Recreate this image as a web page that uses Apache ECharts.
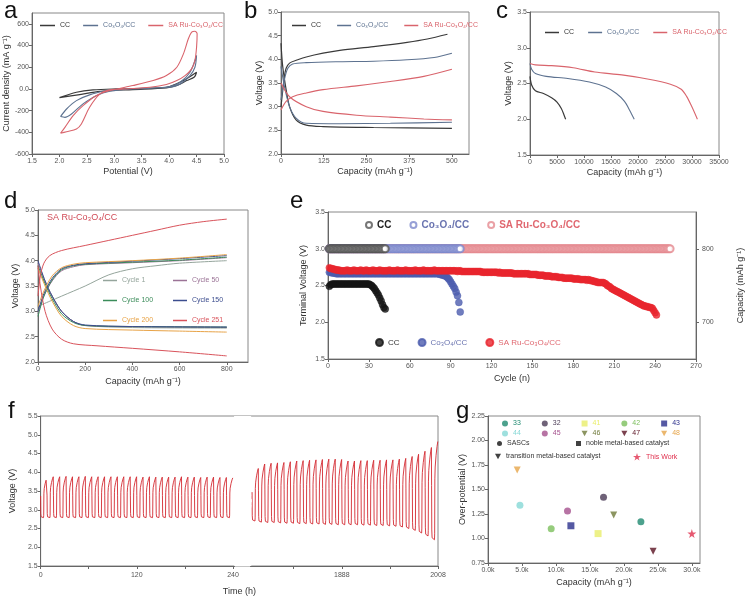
<!DOCTYPE html>
<html><head><meta charset="utf-8">
<script src="https://cdn.jsdelivr.net/npm/echarts@6/dist/echarts.min.js"></script>
<style>html,body{margin:0;padding:0;background:#fff}#c{width:746px;height:601px}</style>
</head><body><div id="c"></div><script>
// ---------- Panel a: CV curves [potential V, current mA/g] ----------
const aCC = [[2.0,-80],[2.31,-31],[2.61,-9],[3.04,0],[3.83,9],[4.01,22],[4.26,77],[4.5,154],[4.46,110],[4.32,77],[4.14,31],[3.95,9],[3.34,-6],[2.74,-22],[2.37,-52],[2.0,-80]];
const aCo = [[2.02,-255],[2.13,-185],[2.31,-108],[2.55,-55],[2.86,-15],[3.04,-3],[3.65,6],[4.01,22],[4.2,62],[4.38,154],[4.5,308],[4.47,200],[4.38,123],[4.2,46],[4.01,15],[3.34,0],[2.92,-22],[2.67,-62],[2.43,-138],[2.22,-231],[2.1,-262],[2.02,-255]];
const aRu = [[2.02,-409],[2.1,-354],[2.25,-246],[2.43,-154],[2.67,-62],[2.92,-15],[3.34,31],[3.71,77],[3.95,123],[4.14,200],[4.26,323],[4.35,462],[4.41,523],[4.47,532],[4.51,508],[4.5,385],[4.47,262],[4.41,185],[4.29,123],[4.14,77],[3.95,40],[3.65,15],[3.22,0],[2.92,-9],[2.74,-46],[2.55,-169],[2.4,-323],[2.31,-369],[2.13,-394],[2.02,-409]];
// ---------- Panel b: charge / discharge at 500 mAh/g ----------
const bCCcharge = [[0,3.0],[10,3.64],[15,3.81],[25,3.92],[49,3.99],[74,4.05],[123,4.13],[172,4.19],[271,4.27],[369,4.36],[428,4.43],[487,4.53]];
const bCCdis = [[0,4.34],[5,3.85],[15,3.36],[25,3.0],[44,2.72],[74,2.61],[123,2.58],[271,2.56],[500,2.54]];
const bCocharge = [[0,3.14],[10,3.57],[20,3.81],[34,3.9],[74,3.93],[172,3.95],[271,3.96],[369,3.99],[448,4.04],[500,4.13]];
const bCodis = [[0,3.85],[10,3.43],[25,3.0],[44,2.76],[74,2.65],[172,2.64],[320,2.65],[500,2.67]];
const bRucharge = [[0,2.93],[15,3.11],[34,3.21],[74,3.29],[123,3.36],[221,3.44],[320,3.53],[418,3.64],[500,3.79]];
const bRudis = [[0,3.5],[25,3.21],[74,3.0],[123,2.9],[221,2.82],[320,2.78],[418,2.74],[500,2.72]];
// ---------- Panel c: full discharge ----------
const cCC = [[0,2.6],[300,2.48],[1000,2.4],[2500,2.36],[4000,2.3],[5000,2.24],[5800,2.15],[6300,2.06],[6600,2.0]];
const cCo = [[0,2.78],[300,2.7],[1000,2.64],[3000,2.6],[7000,2.57],[11000,2.52],[14000,2.45],[16000,2.36],[17500,2.25],[18500,2.12],[19300,2.0]];
const cRu = [[0,2.78],[1000,2.76],[4000,2.75],[8000,2.72],[12000,2.66],[17000,2.62],[22000,2.56],[26000,2.49],[28000,2.42],[29000,2.32],[30000,2.17],[31000,2.0]];
// ---------- Panel d: selected cycles ----------
const dNames = ['Cycle 1','Cycle 50','Cycle 100','Cycle 150','Cycle 200','Cycle 251'];
const dCharge = [
 [[0,3.1],[50,3.2],[100,3.3],[200,3.5],[300,3.72],[400,3.84],[500,3.9],[600,3.95],[800,4.0]],
 [[0,2.95],[25,3.3],[60,3.6],[100,3.8],[150,3.88],[200,3.92],[400,3.96],[600,4.0],[800,4.06]],
 [[0,2.9],[25,3.3],[60,3.62],[100,3.82],[150,3.9],[200,3.93],[400,3.97],[600,4.01],[800,4.07]],
 [[0,3.0],[25,3.35],[60,3.65],[100,3.84],[150,3.91],[200,3.94],[400,3.99],[600,4.04],[800,4.1]],
 [[0,3.1],[25,3.4],[60,3.7],[100,3.86],[150,3.93],[200,3.96],[400,4.0],[600,4.05],[800,4.12]],
 [[0,3.3],[10,3.7],[25,3.95],[50,4.1],[100,4.2],[200,4.3],[300,4.4],[400,4.5],[500,4.6],[600,4.7],[700,4.77],[800,4.82]]
];
const dDis = [
 [[0,3.85],[30,3.55],[60,3.3],[100,3.0],[150,2.8],[200,2.72],[400,2.68],[800,2.67]],
 [[0,3.95],[30,3.6],[60,3.3],[100,3.0],[150,2.8],[200,2.72],[400,2.7],[800,2.68]],
 [[0,3.9],[30,3.55],[60,3.25],[100,2.95],[150,2.78],[200,2.72],[400,2.7],[800,2.69]],
 [[0,4.0],[30,3.6],[60,3.3],[100,3.0],[150,2.8],[200,2.73],[400,2.7],[800,2.69]],
 [[0,3.85],[30,3.5],[60,3.2],[100,2.9],[150,2.72],[200,2.66],[400,2.63],[600,2.61],[800,2.59]],
 [[0,3.9],[10,3.5],[30,3.0],[60,2.65],[100,2.45],[150,2.36],[250,2.32],[400,2.27],[600,2.2],[800,2.12]]
];
// ---------- Panel e: terminal voltage per cycle ----------
const eCCv = [2.49,2.51,2.52,2.52,2.52,2.52,2.52,2.52,2.52,2.52,
 2.52,2.52,2.52,2.52,2.52,2.52,2.52,2.52,2.52,2.52,
 2.52,2.52,2.52,2.52,2.52,2.52,2.52,2.52,2.52,2.52,
 2.51,2.50,2.48,2.46,2.43,2.40,2.37,2.33,2.29,2.24,2.20,2.18];
const eCov = [2.68,2.68,2.67,2.67,2.67,2.66,2.66,2.66,2.66,2.66,
 2.66,2.66,2.66,2.66,2.66,2.66,2.66,2.66,2.66,2.66,
 2.66,2.66,2.66,2.66,2.66,2.66,2.66,2.66,2.66,2.66,
 2.66,2.66,2.66,2.66,2.66,2.66,2.66,2.66,2.66,2.66,
 2.66,2.66,2.66,2.66,2.66,2.66,2.66,2.66,2.66,2.66,
 2.66,2.66,2.66,2.66,2.66,2.66,2.66,2.66,2.66,2.66,
 2.66,2.66,2.66,2.66,2.66,2.66,2.66,2.66,2.66,2.66,
 2.66,2.66,2.66,2.66,2.66,2.66,2.66,2.66,2.66,2.66,
 2.66,2.65,2.65,2.64,2.64,2.63,2.62,2.60,2.58,2.55,
 2.52,2.49,2.46,2.41,2.36,2.27,2.14];
const eRuv = [2.74,2.73,2.73,2.72,2.72,2.71,2.71,2.71,2.70,2.70,
 2.70,2.70,2.70,2.71,2.70,2.70,2.70,2.70,2.71,2.70,
 2.70,2.70,2.70,2.71,2.70,2.70,2.70,2.71,2.70,2.70,
 2.70,2.70,2.71,2.70,2.70,2.70,2.70,2.71,2.70,2.70,
 2.70,2.70,2.70,2.70,2.71,2.70,2.70,2.70,2.70,2.70,
 2.71,2.70,2.70,2.70,2.70,2.70,2.71,2.70,2.70,2.70,
 2.70,2.70,2.70,2.71,2.70,2.70,2.70,2.70,2.70,2.71,
 2.70,2.70,2.70,2.70,2.70,2.70,2.70,2.71,2.70,2.70,
 2.70,2.70,2.70,2.70,2.70,2.70,2.70,2.70,2.70,2.70,
 2.70,2.70,2.70,2.70,2.69,2.70,2.70,2.69,2.69,2.69,
 2.69,2.69,2.69,2.69,2.69,2.69,2.69,2.69,2.69,2.69,
 2.69,2.69,2.68,2.68,2.68,2.68,2.68,2.68,2.68,2.68,
 2.68,2.68,2.68,2.68,2.67,2.68,2.67,2.67,2.67,2.67,
 2.67,2.67,2.67,2.67,2.67,2.66,2.66,2.66,2.66,2.66,
 2.66,2.66,2.66,2.66,2.66,2.66,2.66,2.65,2.65,2.65,
 2.65,2.65,2.65,2.64,2.64,2.64,2.64,2.64,2.63,2.63,
 2.63,2.63,2.63,2.62,2.62,2.62,2.62,2.62,2.61,2.61,
 2.61,2.61,2.60,2.60,2.60,2.60,2.60,2.60,2.60,2.59,
 2.59,2.59,2.59,2.59,2.58,2.58,2.58,2.58,2.58,2.57,
 2.58,2.57,2.57,2.56,2.56,2.55,2.55,2.54,2.54,2.54,
 2.54,2.54,2.53,2.52,2.50,2.49,2.48,2.46,2.45,2.44,
 2.43,2.42,2.41,2.40,2.39,2.38,2.37,2.36,2.35,2.34,
 2.33,2.32,2.31,2.30,2.29,2.28,2.27,2.26,2.25,2.24,
 2.23,2.22,2.22,2.21,2.21,2.20,2.20,2.19,2.16,2.13,2.10];
const eCapacityLimit = 800; // mAh/g, every cycle
// ---------- Panel f: long-term cycling ----------
const fCycleHours = 8;
const fPhase = [0, 0.03, 0.08, 0.45, 0.48, 0.51, 0.56, 0.7, 0.85, 0.97];
const fLevel = [0.55, 0.1, 0.02, 0.0, 0.06, 0.62, 0.74, 0.86, 0.95, 1.0];
const fLeftStart = 0;
const fLeftTop = [3.84,3.88,3.88,3.89,3.88,3.88,3.89,3.88,3.88,3.88,3.88,3.88,3.88,3.88,3.88,3.87,3.88,3.87,3.87,3.87,3.87,3.88,3.87,3.87,3.86,3.87,3.87,3.86,3.86,3.85];
const fLeftBottom = [2.79,2.79,2.79,2.79,2.79,2.79,2.79,2.79,2.79,2.79,2.79,2.79,2.79,2.79,2.79,2.79,2.79,2.79,2.79,2.79,2.79,2.79,2.79,2.79,2.79,2.79,2.79,2.79,2.79,2.79];
const fRightStart = 1776;
const fRightTop = [4.1,4.22,4.24,4.25,4.26,4.28,4.3,4.31,4.32,4.33,4.34,4.35,4.35,4.34,4.3,4.3,4.31,4.31,4.32,4.32,4.33,4.33,4.35,4.37,4.42,4.48,4.56,4.66,4.82];
const fRightBottom = [2.7,2.67,2.66,2.66,2.65,2.64,2.64,2.63,2.63,2.62,2.62,2.61,2.61,2.6,2.6,2.6,2.6,2.59,2.59,2.58,2.58,2.57,2.56,2.54,2.5,2.45,2.38,2.3,2.2];
const fXLabels = [0,120,240,1888,2008];
const fXTicks = [0,60,120,180,240,1828,1888,1948,2008];
// ---------- Panel g: literature comparison ----------
const gNames = ['33','32','41','42','43','44','45','46','47','48','This Work'];
const gCapacity = [22500,17000,16200,9300,12200,4700,11700,18500,24300,4300,30000];
const gOverpot = [1.17,1.42,1.05,1.10,1.13,1.34,1.28,1.24,0.87,1.70,1.05];
const gColors = ['#1f8a70','#4b3b56','#e9ee6a','#7cbf5c','#2b2f8c','#86d8d6','#a5508d','#6f7a3a','#5a1222','#e6a54a','#e0304e'];
const TRI = 'path://M0,0L10,0L5,9Z';
const STAR = 'path://M5,0L6.2,3.6L10,3.6L6.9,5.9L8.1,9.5L5,7.3L1.9,9.5L3.1,5.9L0,3.6L3.8,3.6Z';
const gSymbols = ['circle','circle','rect','circle','rect','circle','circle',TRI,TRI,TRI,STAR];

// ---------- colours / helpers ----------
const FONT = 'Liberation Sans, Arial, sans-serif';
const C_CC = '#3a3a3a', C_CO = '#5d7290', C_RU = '#d9646c';
const dColors = ['#95a59c','#9b7396','#3b8c5a','#3c4d8e','#e8a347','#d9535b'];
const labelMap = {
  aCC:'CC', aCo:'Co₃O₄/CC', aRu:'SA Ru-Co₃O₄/CC',
  bCC:'CC', bCo:'Co₃O₄/CC', bRu:'SA Ru-Co₃O₄/CC',
  cCC:'CC', cCo:'Co₃O₄/CC', cRu:'SA Ru-Co₃O₄/CC',
  eKCC:'CC', eKCo:'Co₃O₄/CC', eKRu:'SA Ru-Co₃O₄/CC',
  eVCC:'CC', eVCo:'Co₃O₄/CC', eVRu:'SA Ru-Co₃O₄/CC'
};
const fmt = n => labelMap[n] || n;

function xAx(gi, min, max, interval, name, gap, lf, extra) {
  const o = {
    type:'value', gridIndex:gi, min, max, name, nameLocation:'middle', nameGap:gap,
    nameTextStyle:{fontSize:9, color:'#333', fontFamily:FONT},
    axisLine:{show:true, onZero:false, lineStyle:{color:'#666', width:1}},
    axisTick:{show:true, length:3, lineStyle:{color:'#666'}},
    axisLabel:{fontSize:7, color:'#555', margin:4, fontFamily:FONT, formatter:lf, showMaxLabel:true},
    splitLine:{show:false}
  };
  if (interval) o.interval = interval;
  return Object.assign(o, extra || {});
}
function yAx(gi, min, max, interval, name, gap, lf, extra) {
  const o = {
    type:'value', gridIndex:gi, min, max, name, nameLocation:'middle', nameGap:gap, nameRotate:90,
    nameTextStyle:{fontSize:9, color:'#333', fontFamily:FONT},
    axisLine:{show:true, onZero:false, lineStyle:{color:'#666', width:1}},
    axisTick:{show:true, length:3, lineStyle:{color:'#666'}},
    axisLabel:{fontSize:7, color:'#555', margin:3, fontFamily:FONT, formatter:lf},
    splitLine:{show:false}
  };
  if (interval) o.interval = interval;
  return Object.assign(o, extra || {});
}
function line(name, data, color, xi, yi, w, smooth) {
  return {type:'line', name, data, xAxisIndex:xi, yAxisIndex:yi, symbol:'none',
    smooth: smooth === undefined ? 0.3 : smooth, lineStyle:{color, width:w || 1.1},
    itemStyle:{color}, animation:false};
}
function grid(left, top, width, height) {
  return {left, top, width, height, show:true, borderColor:'#888', borderWidth:1, backgroundColor:'transparent'};
}
const f1 = v => v.toFixed(1);
const fInt = v => String(Math.round(v));

// panel f data assembled from per-cycle extremes and the cycle profile
function buildCycles(t0, tops, bottoms) {
  const pts = [];
  tops.forEach((top, i) => {
    const b = bottoms[i];
    fPhase.forEach((p, k) => pts.push([t0 + (i + p) * fCycleHours, b + (top - b) * fLevel[k]]));
  });
  return pts;
}
const fData = buildCycles(fLeftStart, fLeftTop, fLeftBottom)
  .concat([[244, '-']])
  .concat(buildCycles(fRightStart, fRightTop, fRightBottom));

const idx = arr => arr.map((v, i) => [i + 1, v]);
const capIdx = n => { const a = []; for (let i = 1; i <= n; i++) a.push([i, eCapacityLimit]); return a; };

function legendItems(names, colors) {
  return names.map((n, i) => ({name:n, textStyle:{color: colors ? colors[i] : '#333'}}));
}

const series = [];
series.push(line('aCC', aCC, C_CC, 0, 0, 1.2), line('aCo', aCo, C_CO, 0, 0, 1.1), line('aRu', aRu, C_RU, 0, 0, 1.1));
series.push(line('bCC', bCCcharge, C_CC, 1, 1, 1.2), line('bCC', bCCdis, C_CC, 1, 1, 1.2),
  line('bCo', bCocharge, C_CO, 1, 1), line('bCo', bCodis, C_CO, 1, 1),
  line('bRu', bRucharge, C_RU, 1, 1), line('bRu', bRudis, C_RU, 1, 1));
series.push(line('cCC', cCC, C_CC, 2, 2, 1.2), line('cCo', cCo, C_CO, 2, 2), line('cRu', cRu, C_RU, 2, 2));
dNames.forEach((n, i) => {
  series.push(line(n, dCharge[i], dColors[i], 3, 3, 1.0), line(n, dDis[i], dColors[i], 3, 3, 1.0));
});
[['eKRu', 251, '#e58a90'], ['eKCo', 97, '#7d88cc'], ['eKCC', 42, '#555']].forEach(([n, c, col]) => {
  series.push({type:'scatter', name:n, data:capIdx(c), xAxisIndex:4, yAxisIndex:5, symbol:'emptyCircle', symbolSize:7,
    itemStyle:{color:col, borderColor:col, borderWidth:1}, animation:false});
});
[['eVCC', eCCv, '#151515'], ['eVCo', eCov, '#4c5cae'], ['eVRu', eRuv, '#e8262e']].forEach(([n, d, col]) => {
  series.push({type:'scatter', name:n, data:idx(d), xAxisIndex:4, yAxisIndex:4, symbol:'circle', symbolSize:7,
    itemStyle:{color:col, borderColor:col, borderWidth:0.5}, animation:false});
});
series.push(Object.assign(line('fV', fData, '#d42a32', 5, 6, 0.9, false), {connectNulls:false}));
gNames.forEach((n, i) => {
  series.push({type:'scatter', name:n, data:[[gCapacity[i], gOverpot[i]]], xAxisIndex:6, yAxisIndex:7,
    symbol:gSymbols[i], symbolSize: i === 10 ? 9 : 7, itemStyle:{color:gColors[i]}, animation:false});
});
[['SASCs','circle'], ['noble metal-based catalyst','rect'], ['transition metal-based catalyst', TRI]].forEach(([n, s]) => {
  series.push({type:'scatter', name:n, data:[], xAxisIndex:6, yAxisIndex:7, symbol:s, symbolSize:6, itemStyle:{color:'#111'}});
});

const legBase = {selectedMode:false, formatter:fmt, textStyle:{fontSize:7, fontFamily:FONT, color:'#555'}, padding:0};
const L = o => Object.assign({}, legBase, o);
const lineLeg = {icon:'rect', itemHeight:1.5};
const legends = [
  L(Object.assign({left:40, top:22, itemWidth:15, itemGap:13, data:legendItems(['aCC','aCo','aRu'],['#333',C_CO,C_RU])}, lineLeg)),
  L(Object.assign({left:292, top:22, itemWidth:14, itemGap:16, data:legendItems(['bCC','bCo','bRu'],['#333',C_CO,C_RU])}, lineLeg)),
  L(Object.assign({left:545, top:29, itemWidth:14, itemGap:14, data:legendItems(['cCC','cCo','cRu'],['#333',C_CO,C_RU])}, lineLeg)),
  L(Object.assign({left:103, top:277, orient:'vertical', itemWidth:14, itemGap:13, data:legendItems(['Cycle 1','Cycle 100','Cycle 200'],[dColors[0],dColors[2],dColors[4]])}, lineLeg)),
  L(Object.assign({left:173, top:277, orient:'vertical', itemWidth:14, itemGap:13, data:legendItems(['Cycle 50','Cycle 150','Cycle 251'],[dColors[1],dColors[3],dColors[5]])}, lineLeg)),
  L({left:365, top:220, itemWidth:6, itemHeight:6, itemGap:18, textStyle:{fontSize:10, fontWeight:'bold', fontFamily:FONT},
    data:legendItems(['eKCC','eKCo','eKRu'],['#222','#6a74b0','#e06870'])}),
  L({left:375, top:338, itemWidth:7, itemHeight:7, itemGap:18, textStyle:{fontSize:8, fontFamily:FONT},
    data:legendItems(['eVCC','eVCo','eVRu'],['#333','#6a74b0','#e06870'])}),
  L({left:502, top:420, itemWidth:6, itemHeight:6, itemGap:21, data:legendItems(['33','32','41','42','43'], gColors.slice(0,5))}),
  L({left:502, top:430, itemWidth:6, itemHeight:6, itemGap:21, data:legendItems(['44','45','46','47','48'], gColors.slice(5,10))}),
  L({left:497, top:440, itemWidth:5, itemHeight:5, data:legendItems(['SASCs'])}),
  L({left:576, top:440, itemWidth:5, itemHeight:5, data:legendItems(['noble metal-based catalyst'])}),
  L({left:495, top:453, itemWidth:6, itemHeight:6, data:legendItems(['transition metal-based catalyst'])}),
  L({left:633, top:453, itemWidth:8, itemHeight:8, data:legendItems(['This Work'],['#e0304e'])})
];

const letter = (t, left, top) => ({text:t, left, top, padding:0, textStyle:{fontSize:24, fontWeight:'normal', color:'#111', fontFamily:FONT}});
const lblNoMax = (lf) => ({fontSize:7, color:'#555', margin:4, fontFamily:FONT, formatter:lf, showMaxLabel:false});

function makeOption(useBreaks, useCustom) {
  const fx = xAx(5, 0, 2008, null, 'Time (h)', 21, fInt, {});
  if (useBreaks) {
    fx.breaks = [{start:242, end:1774, gap:'4%'}];
    fx.breakArea = {show:true, itemStyle:{color:'#fff', borderColor:'#fff', borderWidth:1, opacity:1}, zigzagAmplitude:1};
  }
  if (useCustom) {
    fx.axisLabel = {fontSize:7, color:'#555', margin:6, fontFamily:FONT, formatter:fInt, customValues:fXLabels};
    fx.axisTick = {show:true, length:3, lineStyle:{color:'#666'}, customValues:fXTicks};
  }
  const eR = yAx(4, 650, 850, 50, 'Capacity (mAh g⁻¹)', 40, fInt, {position:'right'});
  if (useCustom) {
    eR.axisLabel = {fontSize:7, color:'#555', margin:6, fontFamily:FONT, formatter:fInt, customValues:[700,800]};
    eR.axisTick = {show:true, length:3, lineStyle:{color:'#666'}, customValues:[700,800]};
  }
  return {
    animation:false,
    backgroundColor:'#fff',
    title:[letter('a',4,-1), letter('b',244,-1), letter('c',496,-1), letter('d',4,189), letter('e',290,189), letter('f',8,399), letter('g',456,399),
      {text:'SA Ru-Co₃O₄/CC', left:47, top:213, padding:0, textStyle:{fontSize:9, fontWeight:'normal', color:'#d04a56', fontFamily:FONT}}],
    grid:[grid(32,13,192,141), grid(281,12,188,142), grid(530,12,189,143), grid(38,210,210,152), grid(328,212,370,147), grid(39,416,399,150), grid(488,416,212,147)],
    xAxis:[
      xAx(0, 1.5, 5.0, 0.5, 'Potential (V)', 13, f1),
      xAx(1, 0, 550, 125, 'Capacity (mAh g⁻¹)', 13, fInt, {axisLabel:lblNoMax(fInt)}),
      xAx(2, 0, 35000, 5000, 'Capacity (mAh g⁻¹)', 13, fInt),
      xAx(3, 0, 890, 200, 'Capacity (mAh g⁻¹)', 15, fInt, {axisLabel:lblNoMax(fInt)}),
      xAx(4, 0, 270, 30, 'Cycle (n)', 15, fInt),
      fx,
      xAx(6, 0, 31200, 5000, 'Capacity (mAh g⁻¹)', 15, null, {axisLabel:lblNoMax(v => (v/1000).toFixed(1) + 'k')})
    ],
    yAxis:[
      yAx(0, -600, 700, 200, 'Current density (mA g⁻¹)', 18, null, {axisLabel:{fontSize:7, color:'#555', margin:3, fontFamily:FONT, formatter:v => v === 0 ? '0.0' : String(v), showMaxLabel:false}}),
      yAx(1, 2.0, 5.0, 0.5, 'Voltage (V)', 16, f1),
      yAx(2, 1.5, 3.5, 0.5, 'Voltage (V)', 16, f1),
      yAx(3, 2.0, 5.0, 0.5, 'Voltage (V)', 18, f1),
      yAx(4, 1.5, 3.5, 0.5, 'Terminal Voltage (V)', 20, f1),
      eR,
      yAx(5, 1.5, 5.5, 0.5, 'Voltage (V)', 22, f1),
      yAx(6, 0.75, 2.25, 0.25, 'Over-potential (V)', 18, v => v.toFixed(2))
    ],
    legend: legends,
    series
  };
}
const el = document.getElementById('c');
const attempts = [[true,true],[false,true],[true,false],[false,false]];
let lastErr = null;
for (const [b, c] of attempts) {
  let chart = echarts.getInstanceByDom(el);
  if (chart) chart.dispose();
  chart = echarts.init(el, null, {renderer:'canvas'});
  try { chart.setOption(makeOption(b, c)); lastErr = null; break; }
  catch (e) { lastErr = e; console.error('fail breaks=' + b + ' custom=' + c + ': ' + e.message); }
}
if (lastErr) setTimeout(() => { throw lastErr; }, 0);
</script></body></html>
